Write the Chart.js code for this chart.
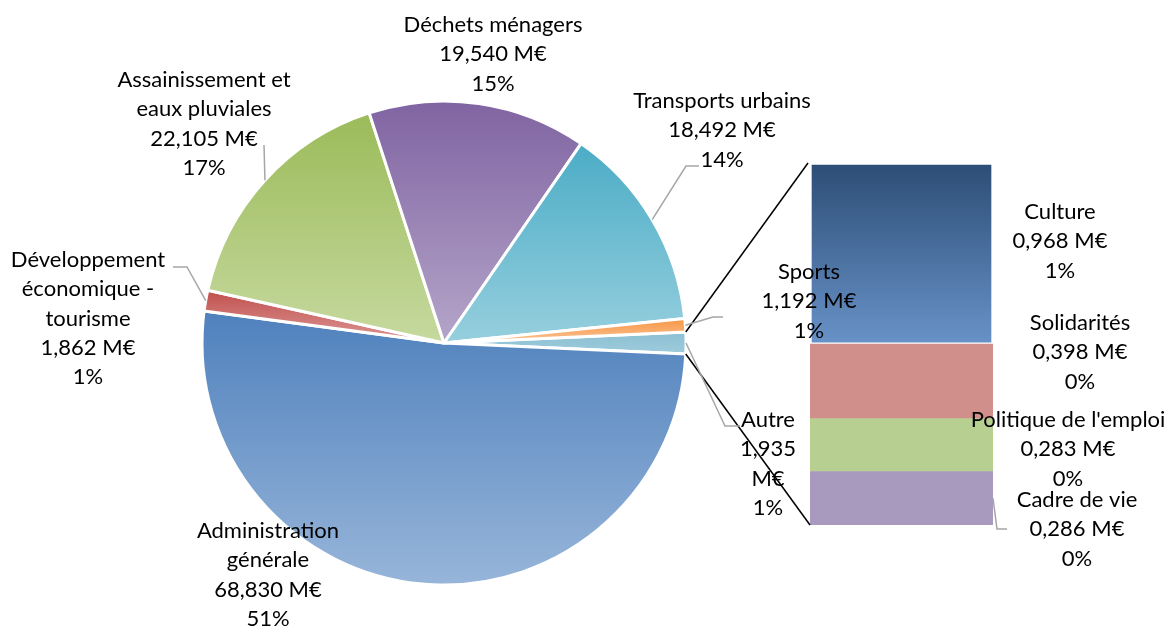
<!DOCTYPE html>
<html>
<head>
<meta charset="utf-8">
<script src="https://cdn.jsdelivr.net/npm/chart.js@4.4.1/dist/chart.umd.min.js"></script>
<style>
  html, body { margin: 0; padding: 0; background: #fff; }
  #wrap { position: relative; width: 1169px; height: 630px; }
  #wrap canvas { position: absolute; left: 0; top: 0; }
</style>
</head>
<body>
<div id="wrap">
  <canvas id="barChart" width="1169" height="630"></canvas>
  <canvas id="pieChart" width="1169" height="630"></canvas>
</div>
<script>
'use strict';

// pie (first slice = "Autre", which is detailed in the bar)
const pieLabels = ['Autre', 'Administration générale', 'Développement économique - tourisme',
  'Assainissement et eaux pluviales', 'Déchets ménagers', 'Transports urbains', 'Sports'];
const pieValues = [1.935, 68.830, 1.862, 22.105, 19.540, 18.492, 1.192];

// bar, bottom to top
const barLabels = ['Cadre de vie', "Politique de l'emploi", 'Solidarités', 'Culture'];
const barValues = [0.286, 0.283, 0.398, 0.968];

const pieColors = [
  ['#8cc0d3', '#9dcbdb'], ['#4f81bd', '#97b5d9'], ['#c0504d', '#dc9896'],
  ['#9bbb59', '#c6d99f'], ['#8064a2', '#b5a5c9'], ['#4bacc6', '#96cfde'], ['#f79646', '#fbc294']
];
const barColors = ['#a899be', '#b8cf92', '#d18f8c', ['#2c4d75', '#6892c8']];

const FONT = '22px Lato, "Open Sans", sans-serif';
const LINE_H = 29.3;
const PIE_R = 242;

const pieTotal = pieValues.reduce((a, b) => a + b, 0);
const barTotal = barValues.reduce((a, b) => a + b, 0);
const pieRotation = 90 - (pieValues[0] / pieTotal * 360) / 2;

// label placement: centre x, first baseline, wrap width, leader bend points
const pieLabelPos = [
  { x: 768, y: 427, w: 62,  leader: [[725, 426], [740, 426]] },
  { x: 268, y: 538, w: 160 },
  { x: 88,  y: 267, w: 178, leader: [[187, 267], [173, 267]] },
  { x: 204, y: 87,  w: 198, leader: [[264, 145]] },
  { x: 493, y: 32,  w: 240 },
  { x: 722, y: 108, w: 240 },
  { x: 809, y: 279, w: 125, leader: [[713, 317], [723, 317]] },
];
pieLabelPos[5].leader = [[686, 166], [699, 166]];
const barLabelPos = [
  { x: 1077, y: 507, w: 170, leader: [[997, 529], [1007, 529]] },
  { x: 1068, y: 427, w: 260 },
  { x: 1080, y: 330, w: 150 },
  { x: 1060, y: 219, w: 150 },
];

const fmt = v => v.toFixed(3).replace('.', ',') + ' M€';
const pct = v => Math.round(v / pieTotal * 100) + '%';

function wrap(c, text, maxW) {
  const lines = [];
  let cur = '';
  text.split(' ').forEach(w => {
    const t = cur ? cur + ' ' + w : w;
    if (cur && c.measureText(t).width > maxW) { lines.push(cur); cur = w; }
    else cur = t;
  });
  if (cur) lines.push(cur);
  return lines;
}

function drawLabel(c, pos, name, value) {
  const lines = [...wrap(c, name, pos.w), ...wrap(c, fmt(value), pos.w), pct(value)];
  lines.forEach((l, k) => c.fillText(l, pos.x, pos.y + k * LINE_H));
}

function drawLeader(c, start, pts) {
  c.beginPath();
  c.moveTo(start[0], start[1]);
  pts.forEach(p => c.lineTo(p[0], p[1]));
  c.stroke();
}

function vGradient(c, y0, y1, col) {
  if (!isFinite(y0) || !isFinite(y1) || y0 === y1) return col[0];
  const g = c.createLinearGradient(0, y0, 0, y1);
  g.addColorStop(0, col[0]);
  g.addColorStop(1, col[1]);
  return g;
}

// vertical gradient over the bounding box of each slice
function sliceFill(ctx) {
  const i = ctx.dataIndex;
  const area = ctx.chart.chartArea;
  if (ctx.type !== 'data' || !area) return pieColors[i || 0][0];
  let a0 = (pieRotation - 90) * Math.PI / 180;
  for (let k = 0; k < i; k++) a0 += pieValues[k] / pieTotal * 2 * Math.PI;
  const a1 = a0 + pieValues[i] / pieTotal * 2 * Math.PI;
  const cy = (area.top + area.bottom) / 2;
  const ys = [cy, cy + PIE_R * Math.sin(a0), cy + PIE_R * Math.sin(a1)];
  for (let m = -4; m <= 8; m++) {
    const a = m * Math.PI / 2;
    if (a > a0 && a < a1) ys.push(cy + PIE_R * Math.sin(a));
  }
  return vGradient(ctx.chart.ctx, Math.min(...ys), Math.max(...ys), pieColors[i]);
}

function barFill(ctx) {
  const col = barColors[ctx.datasetIndex];
  if (!Array.isArray(col)) return col;
  const y = ctx.chart.scales.y;
  if (!y) return col[0];
  return vGradient(ctx.chart.ctx, y.getPixelForValue(barTotal),
    y.getPixelForValue(barTotal - barValues[ctx.datasetIndex]), col);
}

const barChart = new Chart(document.getElementById('barChart'), {
  type: 'bar',
  data: {
    labels: [''],
    datasets: barLabels.map((l, i) => ({
      label: l,
      data: [barValues[i]],
      backgroundColor: barFill,
      borderColor: '#fff',
      borderWidth: i === 3 ? 2 : 0,
      borderSkipped: false,
      barPercentage: 1,
      categoryPercentage: 1,
    }))
  },
  options: {
    responsive: false,
    animation: false,
    events: [],
    layout: { padding: { left: 810, right: 176, top: 163, bottom: 105 } },
    scales: {
      x: { display: false, stacked: true },
      y: { display: false, stacked: true, min: 0, max: barTotal }
    },
    plugins: { legend: { display: false }, tooltip: { enabled: false } }
  }
});

const labelsPlugin = {
  id: 'pieOfBarLabels',
  afterDatasetsDraw(chart) {
    const c = chart.ctx;
    const arcs = chart.getDatasetMeta(0).data;
    c.save();

    // connectors between the "Autre" slice and the bar
    const autre = arcs[0];
    const top = barChart.getDatasetMeta(3).data[0];
    const bottom = barChart.getDatasetMeta(0).data[0];
    const barLeft = top.x - top.width / 2;
    c.strokeStyle = '#000';
    c.lineWidth = 1.5;
    drawLeader(c, [autre.x + PIE_R * Math.cos(autre.startAngle), autre.y + PIE_R * Math.sin(autre.startAngle)],
      [[barLeft - 2, top.y]]);
    drawLeader(c, [autre.x + PIE_R * Math.cos(autre.endAngle), autre.y + PIE_R * Math.sin(autre.endAngle)],
      [[barLeft, bottom.base]]);

    // leader lines
    c.strokeStyle = '#a6a6a6';
    c.lineWidth = 1.5;
    arcs.forEach((a, i) => {
      const pos = pieLabelPos[i];
      if (!pos.leader) return;
      const mid = (a.startAngle + a.endAngle) / 2;
      drawLeader(c, [a.x + PIE_R * Math.cos(mid), a.y + PIE_R * Math.sin(mid)], pos.leader);
    });
    barLabelPos.forEach((pos, i) => {
      if (!pos.leader) return;
      const b = barChart.getDatasetMeta(i).data[0];
      drawLeader(c, [b.x + b.width / 2, (b.y + b.base) / 2], pos.leader);
    });

    // texts
    c.font = FONT;
    c.fillStyle = '#000';
    c.textAlign = 'center';
    c.textBaseline = 'alphabetic';
    pieLabels.forEach((l, i) => drawLabel(c, pieLabelPos[i], l, pieValues[i]));
    barLabels.forEach((l, i) => drawLabel(c, barLabelPos[i], l, barValues[i]));
    c.restore();
  }
};

new Chart(document.getElementById('pieChart'), {
  type: 'pie',
  data: {
    labels: pieLabels,
    datasets: [{
      data: pieValues,
      backgroundColor: sliceFill,
      borderColor: '#fff',
      borderWidth: 3,
    }]
  },
  options: {
    responsive: false,
    animation: false,
    events: [],
    rotation: pieRotation,
    radius: PIE_R,
    layout: { padding: { left: 202, right: 483, top: 101, bottom: 45 } },
    plugins: { legend: { display: false }, tooltip: { enabled: false } }
  },
  plugins: [labelsPlugin]
});
</script>
</body>
</html>
